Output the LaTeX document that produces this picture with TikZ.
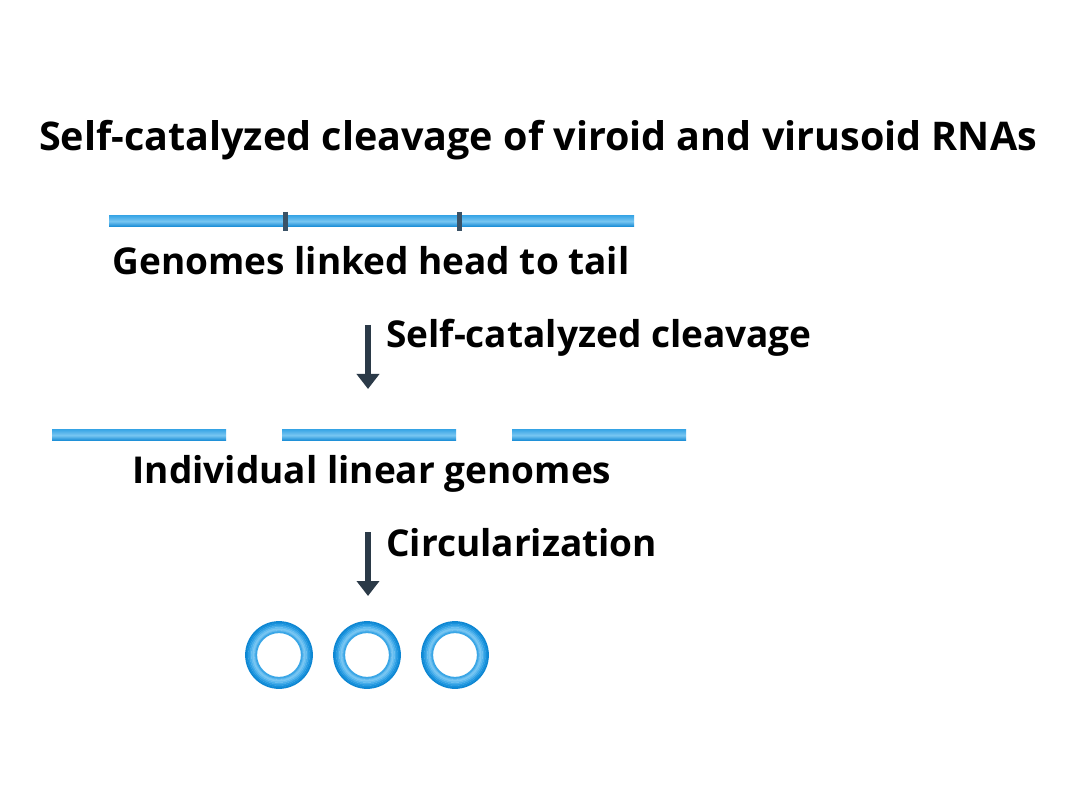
\documentclass[tikz,border=0pt]{standalone}
\usepackage{fontspec}
\setmainfont{Open Sans}
\usetikzlibrary{arrows.meta}
\begin{document}
\begin{tikzpicture}[x=1pt,y=-1pt,
  lbl/.style={font=\bfseries\fontsize{37}{40}\selectfont, inner sep=0pt, anchor=base},
  ttl/.style={font=\bfseries\fontsize{39.5}{44}\selectfont, inner sep=0pt, anchor=base},
  rnabar/.style={top color=rnatop, bottom color=rnadark, middle color=rnalight, draw=none},
  cut/.style={line width=5pt, draw=cutgray},
  flow/.style={line width=5.5pt, draw=arrowc, -{Triangle[width=22pt,length=15pt]}},
]
\definecolor{rnadark}{HTML}{0E86D2}
\definecolor{rnatop}{HTML}{3AA6E6}
\definecolor{rnalight}{HTML}{78C6F2}
\definecolor{cutgray}{HTML}{3A5266}
\definecolor{arrowc}{HTML}{2B3A48}
\useasboundingbox (0,0) rectangle (1080,810);
\fill[white] (0,0) rectangle (1080,810);

% title
\node[ttl] (title) at (538,151) {Self-catalyzed cleavage of viroid and virusoid RNAs};

% concatemer
\coordinate (c1) at (109,215.5);
\coordinate (c2) at (634,227);
\shade[rnabar] (c1) rectangle (c2);
\coordinate (k1a) at (285,212); \coordinate (k1b) at (285,231);
\coordinate (k2a) at (459,212); \coordinate (k2b) at (459,231);
\draw[cut] (k1a) -- (k1b);
\draw[cut] (k2a) -- (k2b);
\node[lbl] (lab1) at (371,275) {Genomes linked head to tail};

% arrow 1
\coordinate (a1s) at (368,325);
\coordinate (a1e) at (368,389);
\draw[flow] (a1s) -- (a1e);
\node[lbl, anchor=base west] (lab2) at (386,348) {Self-catalyzed cleavage};

% linear genomes
\foreach \i/\xa/\xb in {1/52/226, 2/282/456, 3/512/686}{
  \coordinate (g\i a) at (\xa,429.5);
  \coordinate (g\i b) at (\xb,441);
  \shade[rnabar] (g\i a) rectangle (g\i b);
}
\node[lbl] (lab3) at (372,483) {Individual linear genomes};

% arrow 2
\coordinate (a2s) at (368,532);
\coordinate (a2e) at (368,596);
\draw[flow] (a2s) -- (a2e);
\node[lbl, anchor=base west] (lab4) at (386,556) {Circularization};

% circles
\foreach \i/\cx in {1/279, 2/367, 3/455}{
  \coordinate (o\i) at (\cx,655);
  \foreach \r/\c in {33/0E86D2, 31.5/1690DA, 30/2A9CE2, 28.5/46ADEA, 27/62BCF0, 25.5/78C6F2, 24/62BAEE, 22.8/3AA6E6}{
    \definecolor{ringc}{HTML}{\c}
    \draw[line width=1.8pt, draw=ringc] (o\i) circle (\r);
  }
}
\end{tikzpicture}
\end{document}
